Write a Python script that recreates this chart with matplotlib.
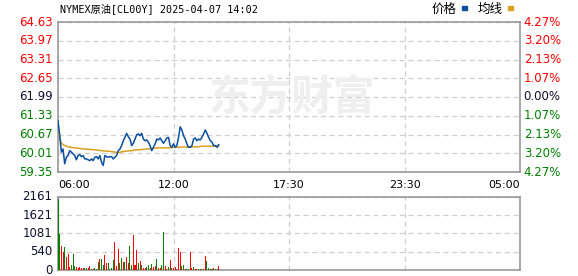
import numpy as np
import matplotlib
matplotlib.use("Agg")
import matplotlib.pyplot as plt

plt.rcParams['font.family'] = ['DejaVu Sans', 'Noto Sans CJK SC']

# ---------------- data ----------------
title = "NYMEX原油[CL00Y] 2025-04-07 14:02"
prev_close = 61.99
price_ticks = [64.63, 63.97, 63.31, 62.65, 61.99, 61.33, 60.67, 60.01, 59.35]
pct_labels = ["4.27%", "3.20%", "2.13%", "1.07%", "0.00%", "1.07%", "2.13%", "3.20%", "4.27%"]
vol_ticks = [2161, 1621, 1081, 540, 0]
x_labels = ["06:00", "12:00", "17:30", "23:30", "05:00"]
total_minutes = 1380          # 06:00 -> 05:00 next day
step_minutes = 5              # sampling step of price / volume series
avg_step_minutes = 10

price = [
    61.15, 60.66, 60.05, 60.16, 59.64, 59.87, 59.93, 60.10, 60.05, 59.99,
    59.93, 59.78, 59.93, 59.96, 59.89, 59.93, 59.81, 59.81, 59.78, 59.75,
    59.81, 59.75, 59.87, 59.89, 59.81, 59.93, 59.69, 59.58, 59.93, 59.89,
    59.87, 59.89, 59.89, 59.81, 59.87, 59.93, 60.10, 60.16, 60.28, 60.45,
    60.57, 60.71, 60.59, 60.51, 60.28, 60.36,
    60.51, 60.66, 60.69, 60.63, 60.71, 60.51, 60.45, 60.48, 60.40, 60.28,
    60.10, 60.22, 60.34, 60.51, 60.48, 60.55, 60.45, 60.36, 60.45, 60.55,
    60.57, 60.28, 60.22, 60.34, 60.22, 60.28, 60.57, 60.94, 60.83, 60.63,
    60.51, 60.34, 60.22, 60.22, 60.28, 60.51, 60.55, 60.45, 60.51, 60.48,
    60.57, 60.69, 60.83, 60.71, 60.57, 60.45, 60.40, 60.28, 60.28, 60.22,
    60.31,
]

avg_price = [
    60.75, 60.36, 60.28, 60.24, 60.22, 60.20, 60.19, 60.17, 60.16, 60.15,
    60.14, 60.13, 60.12, 60.10, 60.09, 60.08, 60.07, 60.05, 60.03, 60.06,
    60.08, 60.09, 60.10, 60.13, 60.13, 60.14, 60.16, 60.16, 60.17, 60.19,
    60.20, 60.20, 60.20, 60.20, 60.21, 60.22, 60.22, 60.23, 60.23, 60.23,
    60.23, 60.24, 60.24, 60.26, 60.26, 60.26, 60.26, 60.26, 60.26,
]

volume = [
    2100, 1050, 707, 520, 687, 393, 460, 100, 150, 460,
    130, 100, 70, 100, 70, 50, 50, 50, 50, 130,
    30, 30, 50, 30, 245, 324, 324, 150, 442, 200,
    200, 30, 70, 295, 835, 130, 619, 200, 363, 245,
    245, 393, 200, 717, 150, 1031, 150, 589, 196, 265,
    147, 69, 69, 98, 147, 69, 167, 98, 128, 324,
    69, 49, 147, 1129, 128, 29, 98, 295, 49, 49,
    98, 29, 658, 540, 128, 147, 29, 29, 29, 540,
    69, 98, 29, 29, 29, 29, 29, 29, 422, 265,
    49, 29, 29, 69, 29, 29, 128,
]
vol_up = [
    0, 0, 1, 1, 0, 1, 1, 1, 0, 0,
    0, 1, 1, 1, 1, 1, 0, 0, 1, 1,
    0, 1, 0, 0, 0, 1, 0, 0, 1, 1,
    0, 0, 0, 0, 1, 1, 1, 0, 0, 1,
    0, 1, 1, 0, 0, 1, 1, 1, 0, 1,
    0, 1, 1, 0, 0, 1, 0, 1, 1, 0,
    1, 1, 0, 0, 1, 1, 0, 1, 0, 1,
    1, 1, 1, 1, 0, 0, 1, 0, 0, 1,
    1, 0, 1, 1, 0, 0, 1, 0, 1, 0,
    0, 1, 0, 1, 0, 0, 1,
]

# ---------------- figure ----------------
W, H = 578, 276
fig = plt.figure(figsize=(W / 100, H / 100), dpi=100)

def fx(px):
    return px / W

def fy(py):
    return 1 - py / H

L, R = 58, 520
ax = fig.add_axes([fx(L), fy(172), fx(R - L), fy(22) - fy(172)])
axv = fig.add_axes([fx(L), fy(270), fx(R - L), fy(196.7) - fy(270)])

red = '#ff0000'
green = '#008000'
blue = '#0a4fa0'
orange = '#dba020'
grid_c = '#cfcfcf'
spine_c = '#999999'

t_price = np.arange(len(price)) * step_minutes
t_avg = np.arange(len(avg_price)) * avg_step_minutes
t_vol = np.arange(len(volume)) * step_minutes

# watermark
fig.text(fx(292), fy(97), "东方财富", fontsize=30, color='#efefef', ha='center',
         va='center', family=['Noto Sans CJK SC', 'DejaVu Sans'], fontweight='bold',
         zorder=0)

ax.plot(t_avg, avg_price, color=orange, lw=1.1, zorder=3)
ax.plot(t_price, price, color=blue, lw=1.1, zorder=4)
ax.set_xlim(0, total_minutes)
ax.set_ylim(price_ticks[-1], price_ticks[0])

xt = np.linspace(0, total_minutes, len(x_labels))
for a in (ax, axv):
    a.set_facecolor('none')
    a.set_xticks(xt)
    a.tick_params(length=0, labelbottom=False, labelleft=False)
    for s in a.spines.values():
        s.set_color(spine_c)
        s.set_linewidth(1.2)
    a.grid(True, color=grid_c, ls=(0, (4, 3)), lw=0.9)
    a.set_axisbelow(True)

ax.set_yticks(price_ticks)
for i, v in enumerate(price_ticks):
    if v > prev_close + 1e-9:
        c = red
    elif v < prev_close - 1e-9:
        c = green
    else:
        c = '#101030'
    ax.text(-0.012, v, f"{v:.2f}", transform=ax.get_yaxis_transform(),
            ha='right', va='center', fontsize=8.5, color=c)
    ax.text(1.008, v, pct_labels[i], transform=ax.get_yaxis_transform(),
            ha='left', va='center', fontsize=8.5, color=c)

# x labels
for i, (t, lab) in enumerate(zip(xt, x_labels)):
    ha = 'left' if i == 0 else ('right' if i == len(xt) - 1 else 'center')
    ax.text(t, -0.09, lab, transform=ax.get_xaxis_transform(), ha=ha,
            va='center', fontsize=8, color='black')

# volume
vcolors = [red if u else green for u in vol_up]
axv.bar(t_vol, volume, width=step_minutes * 0.6, color=vcolors, align='center',
        linewidth=0, zorder=3)
axv.set_xlim(0, total_minutes)
axv.set_ylim(0, vol_ticks[0])
axv.set_yticks(vol_ticks)
for v in vol_ticks:
    axv.text(-0.012, v, f"{v}", transform=axv.get_yaxis_transform(),
             ha='right', va='center', fontsize=8.5, color='#101030')

# title & legend
fig.text(fx(60), fy(9), title, fontsize=7.3, color='black', ha='left', va='center',
         family=['DejaVu Sans Mono', 'Noto Sans CJK SC'])
fig.text(fx(432), fy(9), "价格", fontsize=9, ha='left', va='center',
         family=['Noto Sans CJK SC', 'DejaVu Sans'])
fig.text(fx(478), fy(9), "均线", fontsize=9, ha='left', va='center',
         family=['Noto Sans CJK SC', 'DejaVu Sans'])
fig.patches.append(plt.Rectangle((fx(462), fy(9.5)), fx(5), fy(6.5) - fy(9.5),
                                 transform=fig.transFigure, color=blue))
fig.patches.append(plt.Rectangle((fx(508), fy(9.5)), fx(5), fy(6.5) - fy(9.5),
                                 transform=fig.transFigure, color=orange))

fig.savefig("out.png", dpi=100)
